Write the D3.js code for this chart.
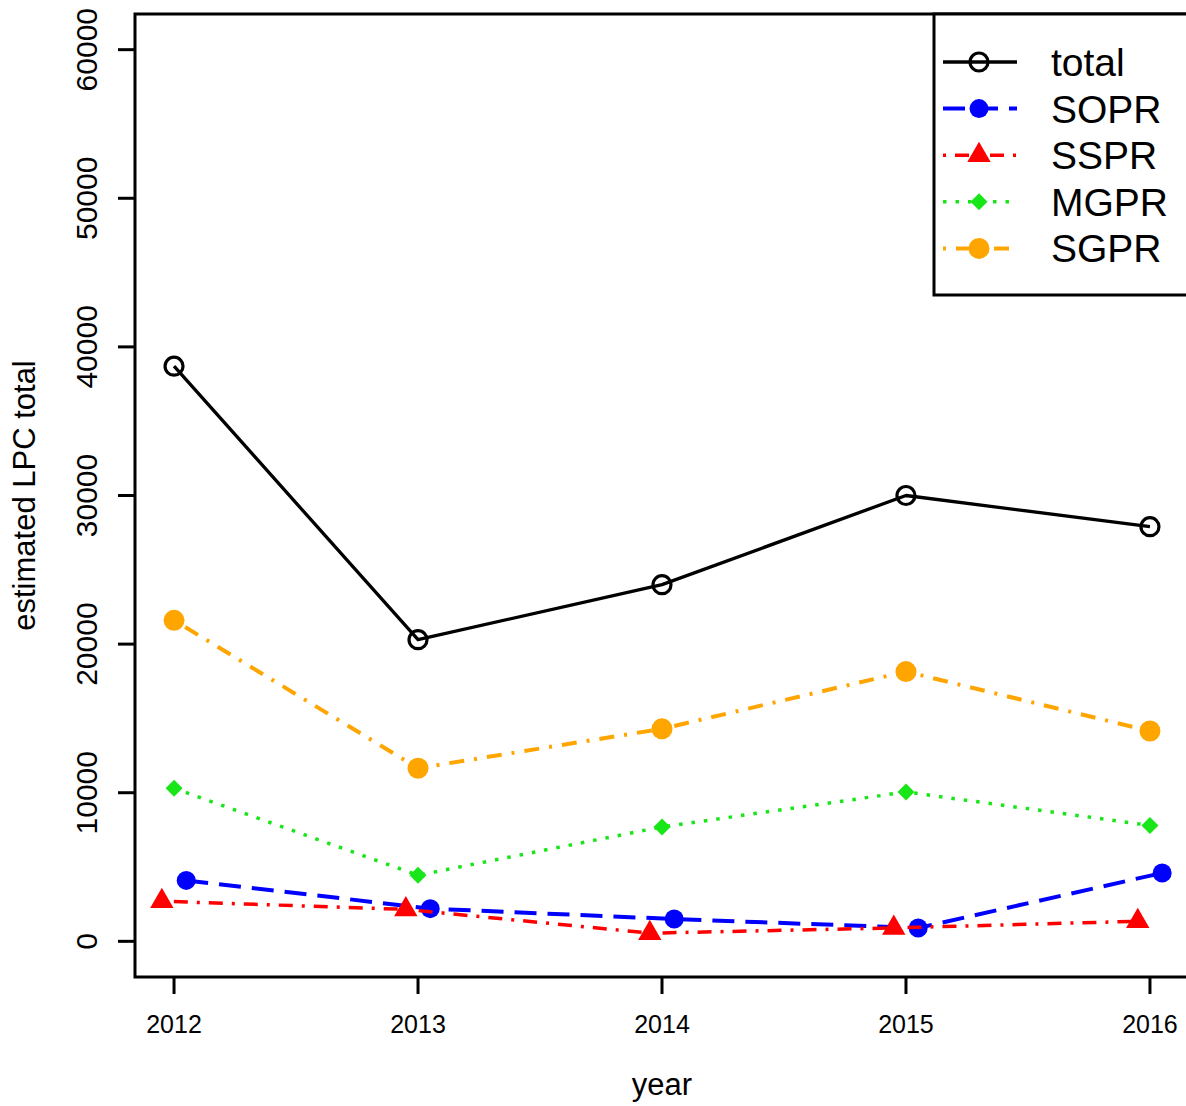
<!DOCTYPE html>
<html>
<head>
<meta charset="utf-8">
<script src="https://cdn.jsdelivr.net/npm/d3@7/dist/d3.min.js"></script>
<style>
  html, body { margin: 0; padding: 0; background: #ffffff; }
  svg { display: block; font-family: "Liberation Sans", Arial, Helvetica, sans-serif; }
</style>
</head>
<body>
<svg id="chart" width="1186" height="1106"></svg>
<script>
// Survey years on the x axis
const years = [2012, 2013, 2014, 2015, 2016];

// Estimated LPC totals per year, overall and by ecoregion
const total = [38700, 20300, 24000, 30000, 27900];
const SOPR  = [4100, 2200, 1500, 900, 4600];
const SSPR  = [2700, 2150, 550, 900, 1350];
const MGPR  = [10300, 4450, 7700, 10050, 7800];
const SGPR  = [21600, 11650, 14300, 18150, 14150];

// Axis tick values
const xTicks = [2012, 2013, 2014, 2015, 2016];
const yTicks = [0, 10000, 20000, 30000, 40000, 50000, 60000];

const seriesNames = ["total", "SOPR", "SSPR", "MGPR", "SGPR"];
const seriesValues = { total, SOPR, SSPR, MGPR, SGPR };

// Drawing style per series (shift = small horizontal offset in years so markers don't overlap)
const styles = {
  total: { color: "#000000", width: 3.3, dash: null,          shape: "openCircle", size: 9,    shift: 0 },
  SOPR:  { color: "#0000ff", width: 4,   dash: "22,11",       shape: "circle",     size: 9.5,  shift: 0.05 },
  SSPR:  { color: "#ff0000", width: 3.5, dash: "3,9,14,9",    shape: "triangle",   size: 13.5, shift: -0.05 },
  MGPR:  { color: "#18e618", width: 3.5, dash: "3.5,9",       shape: "diamond",    size: 8.5,  shift: 0 },
  SGPR:  { color: "#ffa500", width: 4,   dash: "3,10,15,10",  shape: "circle",     size: 10.5, shift: 0 }
};

const svg = d3.select("#chart");
const W = 1186, H = 1106;
svg.append("rect").attr("width", W).attr("height", H).attr("fill", "#fff");

// Plot region (R style: 4% padding on each side of the data range)
const plot = { left: 135, right: 1189, top: 14, bottom: 977 };
const xPad = (2016 - 2012) * 0.04;
const yPad = (60000 - 0) * 0.04;
const x = d3.scaleLinear().domain([2012 - xPad, 2016 + xPad]).range([plot.left, plot.right]);
const y = d3.scaleLinear().domain([0 - yPad, 60000 + yPad]).range([plot.bottom, plot.top]);

// Series lines
const line = d3.line().x(d => x(d[0])).y(d => y(d[1]));
const g = svg.append("g");

function marker(sel, shape, size, color) {
  if (shape === "openCircle") {
    sel.append("circle").attr("r", size).attr("fill", "none").attr("stroke", color).attr("stroke-width", 3.2);
  } else if (shape === "circle") {
    sel.append("circle").attr("r", size).attr("fill", color);
  } else if (shape === "triangle") {
    const r = size, hx = r * 0.866, hy = r / 2;
    sel.append("path").attr("d", `M0,${-r}L${hx},${hy}L${-hx},${hy}Z`).attr("fill", color);
  } else if (shape === "diamond") {
    const s = size;
    sel.append("path").attr("d", `M0,${-s}L${s},0L0,${s}L${-s},0Z`).attr("fill", color);
  }
}

seriesNames.forEach(name => {
  const st = styles[name];
  const pts = years.map((yr, i) => [yr + st.shift, seriesValues[name][i]]);
  g.append("path")
    .attr("d", line(pts))
    .attr("fill", "none")
    .attr("stroke", st.color)
    .attr("stroke-width", st.width)
    .attr("stroke-linejoin", "round")
    .attr("stroke-dasharray", st.dash);
  pts.forEach(p => {
    const m = g.append("g").attr("transform", `translate(${x(p[0])},${y(p[1])})`);
    marker(m, st.shape, st.size, st.color);
  });
});

// Plot frame
svg.append("rect")
  .attr("x", plot.left).attr("y", plot.top)
  .attr("width", plot.right - plot.left).attr("height", plot.bottom - plot.top)
  .attr("fill", "none").attr("stroke", "#000").attr("stroke-width", 3);

// X axis
const xAxis = svg.append("g");
xTicks.forEach(t => {
  xAxis.append("line")
    .attr("x1", x(t)).attr("x2", x(t))
    .attr("y1", plot.bottom).attr("y2", plot.bottom + 17)
    .attr("stroke", "#000").attr("stroke-width", 3);
  xAxis.append("text")
    .attr("x", x(t)).attr("y", plot.bottom + 56)
    .attr("text-anchor", "middle")
    .attr("font-size", 25)
    .text(t);
});

// Y axis
const yAxis = svg.append("g");
yTicks.forEach(t => {
  yAxis.append("line")
    .attr("x1", plot.left - 17).attr("x2", plot.left)
    .attr("y1", y(t)).attr("y2", y(t))
    .attr("stroke", "#000").attr("stroke-width", 3);
  yAxis.append("text")
    .attr("transform", `translate(97,${y(t)}) rotate(-90)`)
    .attr("text-anchor", "middle")
    .attr("font-size", 30)
    .text(t);
});

// Axis titles
svg.append("text")
  .attr("x", (plot.left + plot.right) / 2).attr("y", 1095)
  .attr("text-anchor", "middle").attr("font-size", 31)
  .text("year");
svg.append("text")
  .attr("transform", `translate(35,${(plot.top + plot.bottom) / 2}) rotate(-90)`)
  .attr("text-anchor", "middle").attr("font-size", 31)
  .text("estimated LPC total");

// Legend
const legend = svg.append("g");
legend.append("rect")
  .attr("x", 934).attr("y", plot.top)
  .attr("width", 300).attr("height", 295 - plot.top)
  .attr("fill", "#fff").attr("stroke", "#000").attr("stroke-width", 3);
seriesNames.forEach((name, i) => {
  const st = styles[name];
  const cy = 62 + i * 46.6;
  legend.append("line")
    .attr("x1", 943).attr("x2", 1017).attr("y1", cy).attr("y2", cy)
    .attr("stroke", st.color).attr("stroke-width", st.width)
    .attr("stroke-dasharray", st.dash);
  const m = legend.append("g").attr("transform", `translate(979,${cy})`);
  marker(m, st.shape, st.size, st.color);
  legend.append("text")
    .attr("x", 1051).attr("y", cy + 14)
    .attr("font-size", 39)
    .text(name);
});
</script>
</body>
</html>
